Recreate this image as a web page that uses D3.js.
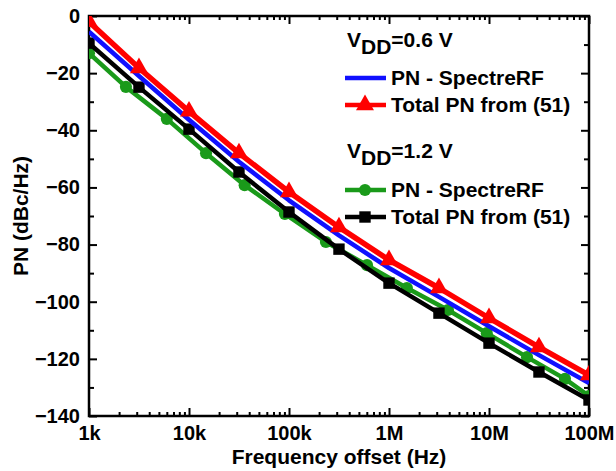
<!DOCTYPE html>
<html>
<head>
<meta charset="utf-8">
<script src="https://cdn.jsdelivr.net/npm/d3@7"></script>
<style>
  body { margin: 0; background: #fff; }
  svg text { font-family: "Liberation Sans", Arial, sans-serif; font-weight: bold; fill: #000; }
</style>
</head>
<body>
<div id="chart"></div>
<script>
// data
var redFreq = [1e3, 3.16e3, 1e4, 3.16e4, 1e5, 3.16e5, 1e6, 3.16e6, 1e7, 3.16e7, 1e8];
var redPN = [-2, -18.2, -33.4, -48, -61.6, -73.9, -85.4, -95.2, -105.7, -115.9, -125.7];

var blueFreq = [1e3, 3.16e3, 1e4, 3.16e4, 1e5, 3.16e5, 1e6, 3.16e6, 1e7, 3.16e7, 1e8];
var bluePN = [-5.5, -21, -36.3, -51, -64.5, -76.8, -88.2, -98.3, -108.6, -118.7, -128.5];

var blackFreq = [1e3, 3.16e3, 1e4, 3.16e4, 1e5, 3.16e5, 1e6, 3.16e6, 1e7, 3.16e7, 1e8];
var blackPN = [-9.5, -24.9, -39.6, -54.6, -68.6, -81.6, -93.5, -104, -114.5, -124.6, -134.4];

var greenFreq = [1e3, 2.34e3, 6e3, 1.48e4, 3.6e4, 9.1e4, 2.34e5, 6.03e5, 1.51e6, 3.89e6, 9.5e6, 2.4e7, 5.75e7, 1e8];
var greenPN = [-13, -24.8, -36, -48, -59.2, -69.3, -79.1, -87.2, -95.2, -102.9, -111, -119.4, -127, -133];

var xTicks = [1e3, 1e4, 1e5, 1e6, 1e7, 1e8];
var xTickLabels = ["1k", "10k", "100k", "1M", "10M", "100M"];
var yTicks = [0, -20, -40, -60, -80, -100, -120, -140];

var svgWidth = 616, svgHeight = 471;
var margin = { top: 16, right: 27, bottom: 55, left: 89 };
var width = svgWidth - margin.left - margin.right;
var height = svgHeight - margin.top - margin.bottom;

var svg = d3.select("#chart").append("svg")
  .attr("width", svgWidth)
  .attr("height", svgHeight);

var g = svg.append("g")
  .attr("transform", `translate(${margin.left}, ${margin.top})`);

var x = d3.scaleLog().domain([1e3, 1e8]).range([0, width]);
var y = d3.scaleLinear().domain([-140, 0]).range([height, 0]);

g.append("clipPath").attr("id", "clip")
  .append("rect").attr("width", width).attr("height", height);

// minor ticks
var minorX = [];
for (var e = 3; e < 8; e++) for (var m = 2; m <= 9; m++) minorX.push(m * Math.pow(10, e));
var minorY = d3.range(-130, 0, 20);

function styleAxis(sel) {
  sel.select(".domain").remove();
  sel.selectAll("line").attr("stroke", "#000").attr("stroke-width", 2);
}

// bottom
g.append("g").attr("transform", `translate(0,${height})`)
  .call(d3.axisBottom(x).tickValues(xTicks).tickSize(-8).tickPadding(10)
    .tickFormat(function(d, i) { return xTickLabels[i]; }))
  .call(styleAxis)
  .selectAll("text").style("font-size", "20px");
g.append("g").attr("transform", `translate(0,${height})`)
  .call(d3.axisBottom(x).tickValues(minorX).tickSize(-4).tickFormat(""))
  .call(styleAxis);
// top
g.append("g")
  .call(d3.axisTop(x).tickValues(xTicks).tickSize(-8).tickFormat(""))
  .call(styleAxis);
g.append("g")
  .call(d3.axisTop(x).tickValues(minorX).tickSize(-4).tickFormat(""))
  .call(styleAxis);
// left
g.append("g")
  .call(d3.axisLeft(y).tickValues(yTicks).tickSize(-8).tickPadding(9))
  .call(styleAxis)
  .selectAll("text").style("font-size", "20px");
g.append("g")
  .call(d3.axisLeft(y).tickValues(minorY).tickSize(-5).tickFormat(""))
  .call(styleAxis);
// right
g.append("g").attr("transform", `translate(${width},0)`)
  .call(d3.axisRight(y).tickValues(yTicks).tickSize(-8).tickFormat(""))
  .call(styleAxis);
g.append("g").attr("transform", `translate(${width},0)`)
  .call(d3.axisRight(y).tickValues(minorY).tickSize(-5).tickFormat(""))
  .call(styleAxis);

// frame
g.append("rect").attr("width", width).attr("height", height)
  .attr("fill", "none").attr("stroke", "#000").attr("stroke-width", 2.5);

var line = d3.line().x(function(d) { return x(d[0]); }).y(function(d) { return y(d[1]); });

var series = [
  { f: greenFreq, v: greenPN, color: "#1a9a1a", sym: d3.symbolCircle, size: 115, w: 4.5 },
  { f: blackFreq, v: blackPN, color: "#000000", sym: d3.symbolSquare, size: 130, w: 4.5 },
  { f: blueFreq, v: bluePN, color: "#1010ff", sym: null, w: 4.5 },
  { f: redFreq, v: redPN, color: "#ff0000", sym: d3.symbolTriangle, size: 140, w: 5.5 }
];

var plot = g.append("g").attr("clip-path", "url(#clip)");
series.forEach(function(s) {
  var pts = s.f.map(function(f, i) { return [f, s.v[i]]; });
  plot.append("path").datum(pts)
    .attr("d", line)
    .attr("fill", "none")
    .attr("stroke", s.color)
    .attr("stroke-width", s.w)
    .attr("stroke-linejoin", "round");
  if (s.sym) {
    plot.selectAll(null).data(pts).enter().append("path")
      .attr("d", d3.symbol().type(s.sym).size(s.size))
      .attr("transform", function(d) { return `translate(${x(d[0])},${y(d[1])})`; })
      .attr("fill", s.color);
  }
});

// legend
var leg = svg.append("g");
function header(yy, v) {
  var t = leg.append("text").attr("x", 347).attr("y", yy).style("font-size", "21px");
  t.append("tspan").text("V");
  t.append("tspan").attr("dy", 7).text("DD");
  t.append("tspan").attr("dy", -7).text("=" + v + " V");
}
function entry(yy, color, sym, size, label) {
  leg.append("line").attr("x1", 345).attr("x2", 386).attr("y1", yy).attr("y2", yy)
    .attr("stroke", color).attr("stroke-width", 4.5);
  if (sym) {
    leg.append("path").attr("d", d3.symbol().type(sym).size(size)())
      .attr("transform", `translate(365,${yy})`).attr("fill", color);
  }
  leg.append("text").attr("x", 391).attr("y", yy).attr("dy", "0.35em")
    .style("font-size", "21px").text(label);
}
header(47, "0.6");
entry(78, "#1010ff", null, 0, "PN - SpectreRF");
entry(105, "#ff0000", d3.symbolTriangle, 140, "Total PN from (51)");
header(158, "1.2");
entry(190, "#1a9a1a", d3.symbolCircle, 115, "PN - SpectreRF");
entry(217, "#000000", d3.symbolSquare, 130, "Total PN from (51)");

// axis titles
svg.append("text")
  .attr("transform", `translate(28,${margin.top + height / 2}) rotate(-90)`)
  .attr("text-anchor", "middle").style("font-size", "21px")
  .text("PN (dBc/Hz)");
svg.append("text")
  .attr("x", margin.left + width / 2) .attr("y", 464)
  .attr("text-anchor", "middle").style("font-size", "21px")
  .text("Frequency offset (Hz)");
</script>
</body>
</html>
